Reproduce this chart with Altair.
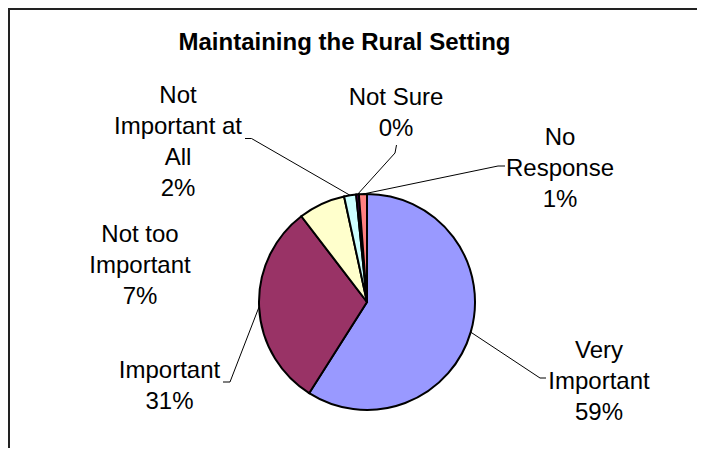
import altair as alt
import pandas as pd

# ---------------- data ----------------
categories = ["Very Important", "Important", "Not too Important",
              "Not Important at All", "Not Sure", "No Response"]
shares = [59.0, 30.6, 7.0, 1.8, 0.4, 1.2]
colors = ["#9999FF", "#993366", "#FFFFCC", "#CCFFFF", "#660066", "#FF8080"]
title_text = "Maintaining the Rural Setting"

# ---------------- layout / style ----------------
W, H = 689, 440
CX, CY, R = 359, 294, 108          # pie centre (view px) and radius
FONT = "Liberation Sans"
FS = 24
LH = 31

# wrapped label text for each category
wrapped = {
    "Very Important": "Very\nImportant",
    "Important": "Important",
    "Not too Important": "Not too\nImportant",
    "Not Important at All": "Not\nImportant at\nAll",
    "Not Sure": "Not Sure",
    "No Response": "No\nResponse",
}
# label anchor (centre x, first baseline) as offsets from the pie centre
label_off = {
    "Very Important": (232, 56),
    "Important": (-197.5, 76),
    "Not too Important": (-227, -60.5),
    "Not Important at All": (-189, -199.5),
    "Not Sure": (29, -197),
    "No Response": (193, -157),
}
# leader line knee and end points (offsets from pie centre); None = no leader
leader_off = {
    "Very Important": ((173, 76), (179, 76)),
    "Important": ((-137, 80), (-144, 80)),
    "Not too Important": None,
    "Not Important at All": ((-115.5, -163.5), (-122, -163.5)),
    "Not Sure": ((28, -149), (29.5, -157)),
    "No Response": ((131, -136), (138, -136)),
}

rows = []
for i, (c, s) in enumerate(zip(categories, shares)):
    lo = label_off[c]
    ld = leader_off[c]
    rows.append({
        "category": c, "share": s, "order": i,
        "wrapped": wrapped[c],
        "lx": CX + lo[0], "ly": CY + lo[1],
        "has_leader": ld is not None,
        "kx": CX + (ld[0][0] if ld else 0), "ky": CY + (ld[0][1] if ld else 0),
        "ex": CX + (ld[1][0] if ld else 0), "ey": CY + (ld[1][1] if ld else 0),
    })
df = pd.DataFrame(rows)

base = alt.Chart(df)

pie = base.mark_arc(outerRadius=R, stroke="black", strokeWidth=2).encode(
    theta=alt.Theta("share:Q", stack=True),
    color=alt.Color("category:N", scale=alt.Scale(domain=categories, range=colors), legend=None),
    order=alt.Order("order:Q"),
    x=alt.value(CX),
    y=alt.value(CY),
)

geo = base.transform_joinaggregate(
    total="sum(share)"
).transform_window(
    cum="sum(share)", sort=[alt.SortField("order")], frame=[None, 0]
).transform_calculate(
    mid="(datum.cum - datum.share / 2) / datum.total * 2 * PI",
    pct="format(datum.share / datum.total * 100, '.0f') + '%'",
).transform_calculate(
    sx=f"{CX} + {R} * sin(datum.mid)",
    sy=f"{CY} - {R} * cos(datum.mid)",
    txt="datum.wrapped + '\\n' + datum.pct",
)

leader1 = geo.transform_filter("datum.has_leader").mark_rule(
    color="black", strokeWidth=1
).encode(
    x=alt.X("sx:Q", scale=None), y=alt.Y("sy:Q", scale=None),
    x2="kx:Q", y2="ky:Q",
)
leader2 = geo.transform_filter("datum.has_leader").mark_rule(
    color="black", strokeWidth=1
).encode(
    x=alt.X("kx:Q", scale=None), y=alt.Y("ky:Q", scale=None),
    x2="ex:Q", y2="ey:Q",
)

labels = geo.mark_text(
    font=FONT, fontSize=FS, lineHeight=LH, lineBreak="\n",
    align="center", baseline="alphabetic", color="black",
).encode(
    x=alt.X("lx:Q", scale=None), y=alt.Y("ly:Q", scale=None),
    text="txt:N",
)

title = alt.Chart(pd.DataFrame({"t": [title_text]})).mark_text(
    font=FONT, fontSize=24, fontWeight="bold", align="center",
    baseline="alphabetic", color="black",
).encode(text="t:N", x=alt.value(336.5), y=alt.value(42))

# chart-area frame: thin filled bars along the top and the left edge
frame_top = alt.Chart(pd.DataFrame({"a": [0]})).mark_rect(
    color="#222222", strokeWidth=0
).encode(x=alt.value(0), x2=alt.value(W), y=alt.value(0), y2=alt.value(2))
frame_left = alt.Chart(pd.DataFrame({"a": [0]})).mark_rect(
    color="#222222", strokeWidth=0
).encode(x=alt.value(0), x2=alt.value(2), y=alt.value(0), y2=alt.value(H))

chart = alt.layer(
    frame_top, frame_left, pie, leader1, leader2, labels, title
).properties(
    width=W, height=H, autosize="none", padding=0
).configure_view(stroke=None, strokeWidth=0)

chart.save("out.html", embed_options={"renderer": "svg", "actions": False})
